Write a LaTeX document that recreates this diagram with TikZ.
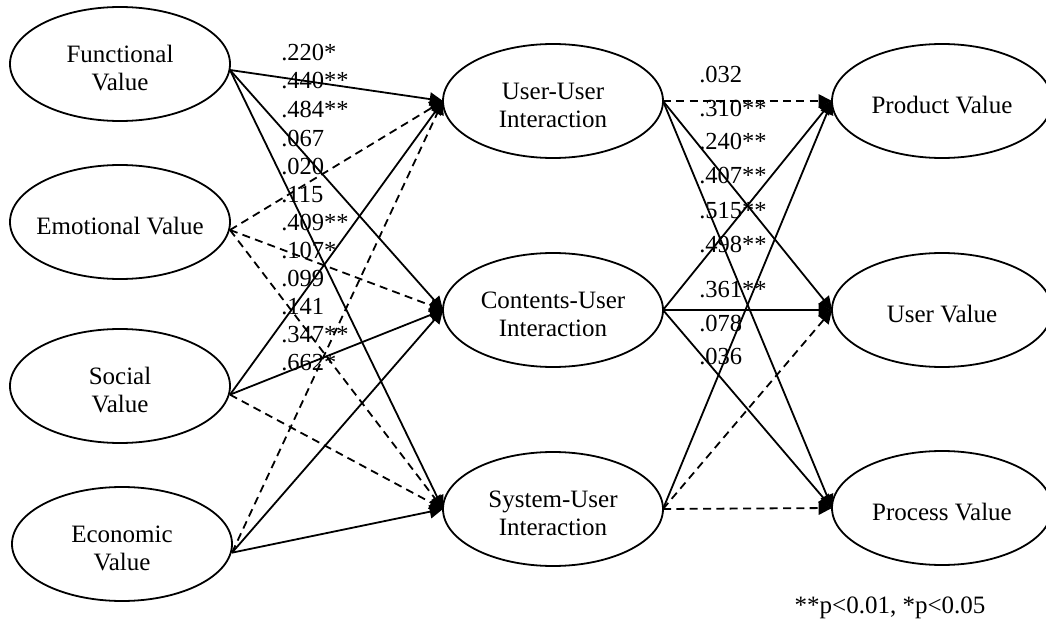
\documentclass[tikz,border=0pt]{standalone}
\usepackage{fontspec}
\setmainfont{Liberation Serif}
\usetikzlibrary{arrows.meta,shapes.geometric}
\newcommand\topstrut{\rule{0pt}{19.5pt}}
\begin{document}
\begin{tikzpicture}[x=0.75pt,y=-0.75pt,
  var/.style={ellipse,draw,line width=1.35pt,minimum width=165pt,minimum height=85.5pt,
    inner sep=0pt,outer sep=0pt,align=center,font=\fontsize{18.75}{21}\selectfont},
  path/.style={line width=1.35pt,-{Triangle[length=10pt,width=10pt]}},
  ns/.style={path,dash pattern=on 6pt off 4pt},
  coef/.style={anchor=west,inner sep=0pt,font=\fontsize{18.4}{20}\selectfont}]
\useasboundingbox (0,0) rectangle (1046,624);
% left column
\node[var] (fv) at (120,64) {\topstrut Functional\\Value};
\node[var] (ev) at (120,222) {\topstrut\makebox[0pt][c]{Emotional Value}};
\node[var] (sv) at (120,386) {\topstrut Social\\Value};
\node[var] (ecv) at (122,544) {\topstrut Economic\\Value};
% middle column
\node[var] (uu) at (553,101) {\topstrut User-User\\Interaction};
\node[var] (cu) at (553,310) {\topstrut Contents-User\\Interaction};
\node[var] (su) at (553,509) {\topstrut System-User\\Interaction};
% right column
\node[var] (pv) at (942,101) {\topstrut Product Value};
\node[var] (uv) at (942,310) {\topstrut User Value};
\node[var] (prv) at (942,508) {\topstrut Process Value};
% left -> middle
\draw[path] ([yshift=-4.5pt]fv.east) -- (uu.west);
\draw[path] ([yshift=-4.5pt]fv.east) -- (cu.west);
\draw[path] ([yshift=-4.5pt]fv.east) -- (su.west);
\draw[ns] ([yshift=-6pt]ev.east) -- (uu.west);
\draw[ns] ([yshift=-6pt]ev.east) -- (cu.west);
\draw[ns] ([yshift=-6pt]ev.east) -- (su.west);
\draw[path] ([yshift=-6.5pt]sv.east) -- (uu.west);
\draw[path] ([yshift=-6.5pt]sv.east) -- (cu.west);
\draw[ns] ([yshift=-6.5pt]sv.east) -- (su.west);
\draw[ns] ([yshift=-6.5pt]ecv.east) -- (uu.west);
\draw[path] ([yshift=-6.5pt]ecv.east) -- (cu.west);
\draw[path] ([yshift=-6.5pt]ecv.east) -- (su.west);
% middle -> right
\draw[ns] (uu.east) -- (pv.west);
\draw[path] (uu.east) -- (uv.west);
\draw[path] (uu.east) -- (prv.west);
\draw[path] (cu.east) -- (pv.west);
\draw[path] (cu.east) -- (uv.west);
\draw[path] (cu.east) -- (prv.west);
\draw[path] (su.east) -- (pv.west);
\draw[ns] (su.east) -- (uv.west);
\draw[ns] (su.east) -- (prv.west);
% coefficients left
\node[coef] (c1) at (281,53) {.220*};
\node[coef] (c2) at (281,81) {.440**};
\node[coef] (c3) at (281,110) {.484**};
\node[coef] (c4) at (281,139) {.067};
\node[coef] (c5) at (281,167) {.020};
\node[coef] (c6) at (281,195) {.115};
\node[coef] (c7) at (281,223) {.409**};
\node[coef] (c8) at (281,251) {.107*};
\node[coef] (c9) at (281,279) {.099};
\node[coef] (c10) at (281,307) {.141};
\node[coef] (c11) at (281,335) {.347**};
\node[coef] (c12) at (281,363) {.662*};
% coefficients right
\node[coef] (d1) at (699,75) {.032};
\node[coef] (d2) at (699,109) {.310**};
\node[coef] (d3) at (699,142) {.240**};
\node[coef] (d4) at (699,176) {.407**};
\node[coef] (d5) at (699,211) {.515**};
\node[coef] (d6) at (699,245) {.498**};
\node[coef] (d7) at (699,290) {.361**};
\node[coef] (d8) at (699,324) {.078};
\node[coef] (d9) at (699,357) {.036};
% note
\node[font=\fontsize{18.75}{21}\selectfont] (note) at (890,608) {**p<0.01, *p<0.05};
\end{tikzpicture}
\end{document}
